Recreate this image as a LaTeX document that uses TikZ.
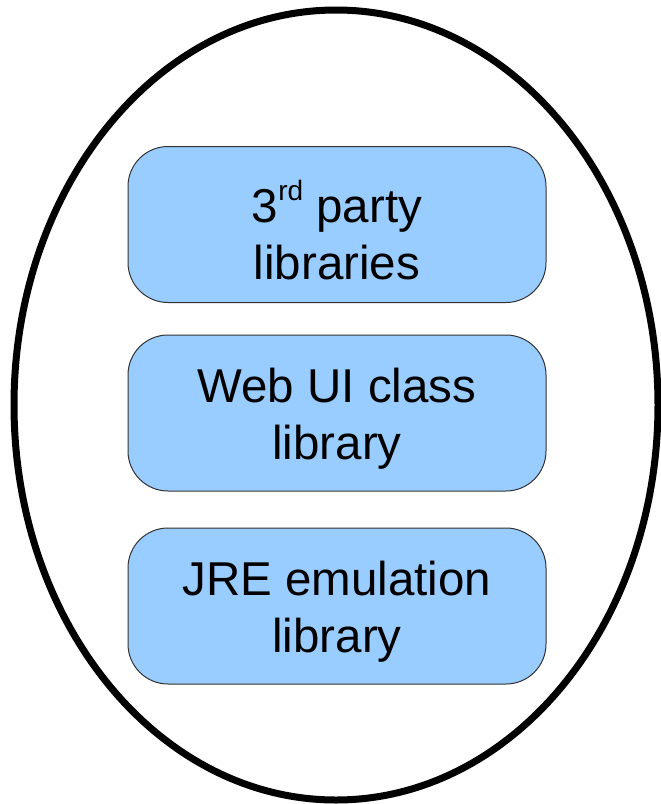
\documentclass[tikz,border=0pt]{standalone}
\usepackage{fontspec}
\setmainfont{Liberation Sans}
\definecolor{boxblue}{HTML}{99CCFF}
\definecolor{boxline}{HTML}{333333}
\tikzset{
  libbox/.style={draw=boxline, line width=1pt, fill=boxblue, rounded corners=40pt,
    minimum width=418pt, minimum height=156pt, inner sep=0pt},
  libtext/.style={align=center, inner sep=0pt, text=black,
    font=\fontsize{47.5}{57}\selectfont},
  outer/.style={draw=black, line width=7pt}
}
\begin{document}
\begin{tikzpicture}[x=1pt,y=-1pt]
\useasboundingbox (0,0) rectangle (661,804);
\draw[outer] (336,405) ellipse [x radius=322, y radius=395];
\node[libbox] (b1) at (337,224.5) {};
\node[libbox] (b2) at (337,413) {};
\node[libbox] (b3) at (337,606) {};
\node[libtext, yshift=-6pt] (t1) at (b1.center) {3\raisebox{22pt}{\fontsize{28}{28}\selectfont rd} party\\libraries};
\node[libtext, yshift=-6pt] (t2) at (b2.center) {Web UI class\\library};
\node[libtext, yshift=-6pt] (t3) at (b3.center) {JRE emulation\\library};
\end{tikzpicture}
\end{document}
